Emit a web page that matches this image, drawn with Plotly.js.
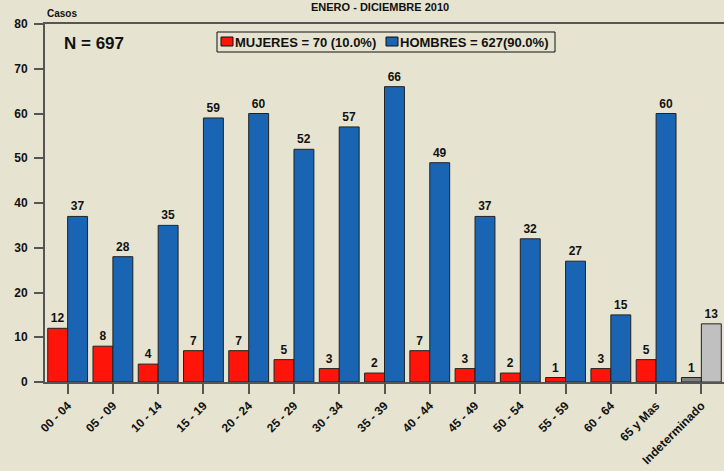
<!DOCTYPE html>
<html>
<head>
<meta charset="utf-8">
<script src="https://cdn.plot.ly/plotly-3.0.1.min.js"></script>
<style>html,body{margin:0;padding:0;background:#E6E4D0;}#chart{width:724px;height:471px;}</style>
</head>
<body>
<div id="chart"></div>
<script>
const categories = ["00 - 04","05 - 09","10 - 14","15 - 19","20 - 24","25 - 29","30 - 34","35 - 39","40 - 44","45 - 49","50 - 54","55 - 59","60 - 64","65 y Mas","Indeterminado"];
const mujeres = [12,8,4,7,7,5,3,2,7,3,2,1,3,5,1];
const hombres = [37,28,35,59,60,52,57,66,49,37,32,27,15,60,13];
const yTicks = [0,10,20,30,40,50,60,70,80];
const seriesNames = ["MUJERES = 70 (10.0%)", "HOMBRES = 627(90.0%)"];

const FONT = "Liberation Sans, Arial, sans-serif";
const RED = "#FF140A", BLUE = "#1A64B4", DGRAY = "#808080", LGRAY = "#C0C0C0";

const redColors = categories.map((c,i)=> i===categories.length-1 ? DGRAY : RED);
const blueColors = categories.map((c,i)=> i===categories.length-1 ? LGRAY : BLUE);

const traces = [
  {type:"bar", name:seriesNames[0], x:categories, y:mujeres,
   marker:{color:redColors, line:{color:"#222", width:1}},
   text:mujeres.map(v=>"<b>"+v+"</b>"), textposition:"outside", cliponaxis:false,
   textfont:{family:FONT, size:12, color:"#111"}},
  {type:"bar", name:seriesNames[1], x:categories, y:hombres,
   marker:{color:blueColors, line:{color:"#222", width:1}},
   text:hombres.map(v=>"<b>"+v+"</b>"), textposition:"outside", cliponaxis:false,
   textfont:{family:FONT, size:12, color:"#111"}}
];

// pixel -> paper helpers for the hand-drawn legend box
const L = 45, W = 724 - 45, T = 24, H = 471 - 24 - 89;
const px = v => (v - L) / W;
const py = v => (T + H - v) / H;

const layout = {
  width:724, height:471,
  paper_bgcolor:"#E6E4D0", plot_bgcolor:"#E6E4D0",
  font:{family:FONT, color:"#111"},
  margin:{l:45, r:0, t:24, b:89},
  barmode:"group", bargap:0.12, bargroupgap:0,
  showlegend:false,
  xaxis:{type:"category", range:[-0.5,14.5], showline:true, linecolor:"#555", linewidth:2, mirror:true,
    ticks:"outside", ticklen:10, tickcolor:"#555", tickwidth:2, tickangle:-45,
    tickfont:{family:FONT, size:12, color:"#111"},
    tickvals:categories, ticktext:categories.map(c=>"<b>"+c+"</b>"),
    showgrid:false, zeroline:false, fixedrange:true},
  yaxis:{range:[0,80], tickvals:yTicks, ticktext:yTicks.map(v=>"<b>"+v+"</b>"),
    showline:true, linecolor:"#555", linewidth:2, ticks:"outside", ticklen:9, tickcolor:"#555", tickwidth:2,
    tickfont:{family:FONT, size:12, color:"#111"}, showgrid:false, zeroline:false, ticklabelstandoff:4},
  shapes:[
    {type:"rect", xref:"paper", yref:"paper", x0:px(217), x1:px(555), y0:py(52), y1:py(32),
     line:{color:"#111", width:1}, fillcolor:"#E6E4D0"},
    {type:"rect", xref:"paper", yref:"paper", x0:px(221), x1:px(233), y0:py(46), y1:py(37),
     line:{color:"#111", width:1}, fillcolor:RED},
    {type:"rect", xref:"paper", yref:"paper", x0:px(386), x1:px(398), y0:py(46), y1:py(37),
     line:{color:"#111", width:1}, fillcolor:BLUE}
  ],
  annotations:[
    {text:"<b>ENERO - DICIEMBRE 2010</b>", xref:"paper", yref:"paper", x:px(380), y:1, xanchor:"center", yanchor:"top",
     yshift:24, borderpad:0, showarrow:false, font:{family:FONT, size:11, color:"#111"}},
    {text:"<b>Casos</b>", xref:"paper", yref:"paper", x:0, y:1, xanchor:"left", yanchor:"bottom", yshift:3,
     showarrow:false, font:{family:FONT, size:10, color:"#111"}},
    {text:"<b>N = 697</b>", xref:"paper", yref:"paper", x:0.025, y:0.945, xanchor:"left", yanchor:"middle",
     showarrow:false, font:{family:FONT, size:17, color:"#111"}},
    {text:"<b>"+seriesNames[0]+"</b>", xref:"paper", yref:"paper", x:px(234), y:py(42), xanchor:"left", yanchor:"middle",
     showarrow:false, borderpad:0, font:{family:FONT, size:13, color:"#111"}},
    {text:"<b>"+seriesNames[1]+"</b>", xref:"paper", yref:"paper", x:px(399), y:py(42), xanchor:"left", yanchor:"middle",
     showarrow:false, borderpad:0, font:{family:FONT, size:13, color:"#111"}}
  ]
};

Plotly.newPlot("chart", traces, layout, {displayModeBar:false, staticPlot:true});
</script>
</body>
</html>
